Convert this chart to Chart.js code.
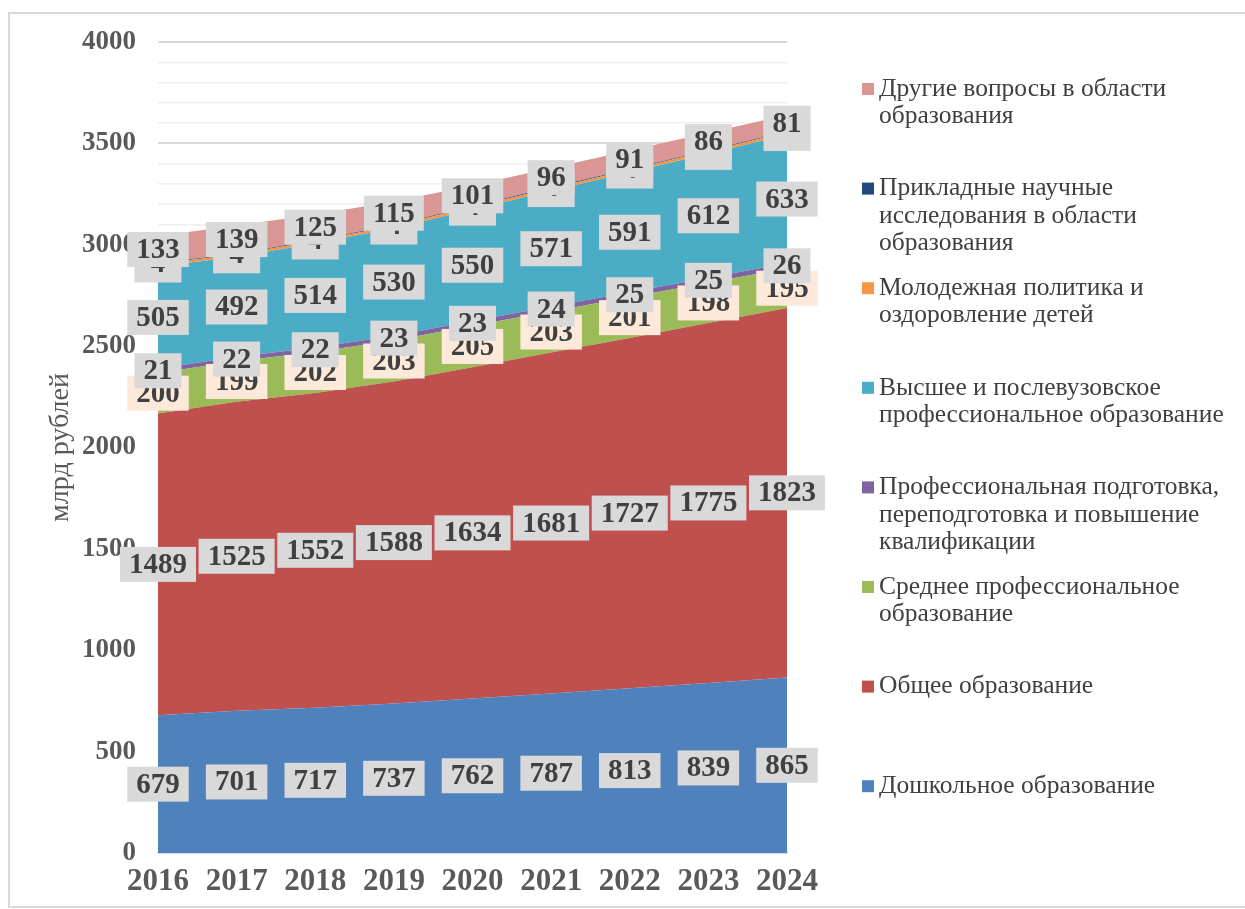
<!DOCTYPE html>
<html>
<head>
<meta charset="utf-8">
<script src="https://cdn.jsdelivr.net/npm/chart.js@4"></script>
<style>
  html, body { margin: 0; padding: 0; background: #fff; }
  #wrap { position: relative; width: 1245px; height: 909px; overflow: hidden; }
  #frame { position: absolute; left: 8px; top: 12px; width: 1260px; height: 892px; border: 2px solid #d9d9d9; }
  canvas { position: absolute; left: 0; top: 0; }
</style>
</head>
<body>
<div id="wrap">
  <div id="frame"></div>
  <canvas id="chart" width="1245" height="909"></canvas>
</div>
<script>
// years on the x axis
var years = ['2016', '2017', '2018', '2019', '2020', '2021', '2022', '2023', '2024'];

// series values, bottom to top (billion roubles)
var preschool   = [679, 701, 717, 737, 762, 787, 813, 839, 865];
var general     = [1489, 1525, 1552, 1588, 1634, 1681, 1727, 1775, 1823];
var secondary   = [200, 199, 202, 203, 205, 203, 201, 198, 195];
var retraining  = [21, 22, 22, 23, 23, 24, 25, 25, 26];
var higher      = [505, 492, 514, 530, 550, 571, 591, 612, 633];
var youth       = [12, 13, 13, 13, 13, 13, 13, 13, 13];
var research    = [4, 4, 4, 4, 4, 4, 4, 4, 4];
var other       = [133, 139, 125, 115, 101, 96, 91, 86, 81];

// legend names, split into lines like in the picture
var names = [
  ['Дошкольное образование'],
  ['Общее образование'],
  ['Среднее профессиональное', 'образование'],
  ['Профессиональная подготовка,', 'переподготовка и повышение', 'квалификации'],
  ['Высшее и послевузовское', 'профессиональное образование'],
  ['Молодежная политика и', 'оздоровление детей'],
  ['Прикладные научные', 'исследования в области', 'образования'],
  ['Другие вопросы в области', 'образования']
];

var yTicks = [0, 500, 1000, 1500, 2000, 2500, 3000, 3500, 4000];

var series = [preschool, general, secondary, retraining, higher, youth, research, other];
var colors = ['#4f81bd', '#c0504d', '#9bbb59', '#8064a2', '#4bacc6', '#f79646', '#1f497d', '#d99694'];
var labelBg = ['#d9d9d9', '#d9d9d9', '#fde9d9', '#d9d9d9', '#d9d9d9', '#d9d9d9', '#d9d9d9', '#d9d9d9'];

var serif = "'Liberation Serif', 'DejaVu Serif', serif";

var datasets = series.map(function (vals, i) {
  return {
    label: names[i].join(' '),
    data: vals,
    backgroundColor: colors[i],
    borderColor: colors[i],
    borderWidth: 0,
    pointRadius: 0,
    tension: 0,
    fill: i === 0 ? 'origin' : '-1'
  };
});

// boxed value labels in the middle of each band
var bandLabels = {
  id: 'bandLabels',
  afterDatasetsDraw: function (chart) {
    var ctx = chart.ctx;
    var yScale = chart.scales.y;
    ctx.save();
    ctx.font = 'bold 29px ' + serif;
    ctx.textAlign = 'center';
    ctx.textBaseline = 'middle';
    chart.data.datasets.forEach(function (ds, i) {
      var meta = chart.getDatasetMeta(i);
      var prev = i > 0 ? chart.getDatasetMeta(i - 1) : null;
      meta.data.forEach(function (pt, j) {
        var bottom = prev ? prev.data[j].y : yScale.getPixelForValue(0);
        var cy = (pt.y + bottom) / 2;
        var txt = String(ds.data[j]);
        var w = ctx.measureText(txt).width + 18;
        var h = 35;
        ctx.fillStyle = labelBg[i];
        ctx.fillRect(pt.x - w / 2, cy - h / 2, w, h);
        ctx.fillStyle = '#404040';
        ctx.fillText(txt, pt.x, cy + 1);
      });
    });
    ctx.restore();
  }
};

// legend on the right, top item = last series
var sideLegend = {
  id: 'sideLegend',
  afterDraw: function (chart) {
    var ctx = chart.ctx;
    ctx.save();
    ctx.font = '25.5px ' + serif;
    ctx.textBaseline = 'middle';
    ctx.textAlign = 'left';
    var n = names.length;
    for (var k = 0; k < n; k++) {
      var i = n - 1 - k;
      var y = 89 + k * 99.6;
      ctx.fillStyle = colors[i];
      ctx.fillRect(862, y - 6, 12, 12);
      ctx.fillStyle = '#404040';
      names[i].forEach(function (line, l) {
        ctx.fillText(line, 879, y + l * 27.5);
      });
    }
    ctx.restore();
  }
};

var chart = new Chart(document.getElementById('chart').getContext('2d'), {
  type: 'line',
  data: { labels: years, datasets: datasets },
  options: {
    responsive: false,
    animation: false,
    layout: { padding: { left: 40, top: 42, right: 458, bottom: 10 } },
    plugins: {
      legend: { display: false },
      tooltip: { enabled: false }
    },
    scales: {
      x: {
        offset: false,
        grid: { display: false, drawTicks: false },
        border: { display: true, color: '#d9d9d9', width: 2 },
        ticks: {
          padding: 10,
          maxRotation: 0,
          autoSkip: false,
          color: '#595959',
          font: { family: serif, size: 31, weight: 'bold' }
        },
        afterFit: function (scale) { scale.height = 46; }
      },
      y: {
        stacked: true,
        min: 0,
        max: 4000,
        border: { display: false },
        grid: {
          drawTicks: false,
          color: function (c) { return yTicks.indexOf(c.tick.value) >= 0 ? '#d9d9d9' : '#efefef'; },
          lineWidth: function (c) { return yTicks.indexOf(c.tick.value) >= 0 ? 2 : 1.5; }
        },
        ticks: {
          stepSize: 100,
          padding: 22,
          autoSkip: false,
          color: '#595959',
          font: { family: serif, size: 27, weight: 'bold' },
          callback: function (v) { return yTicks.indexOf(v) >= 0 ? String(v) : ''; }
        },
        title: {
          display: true,
          text: 'млрд рублей',
          color: '#595959',
          font: { family: serif, size: 28 }
        },
        afterFit: function (scale) { scale.width = 118; }
      }
    }
  },
  plugins: [bandLabels, sideLegend]
});
</script>
</body>
</html>
